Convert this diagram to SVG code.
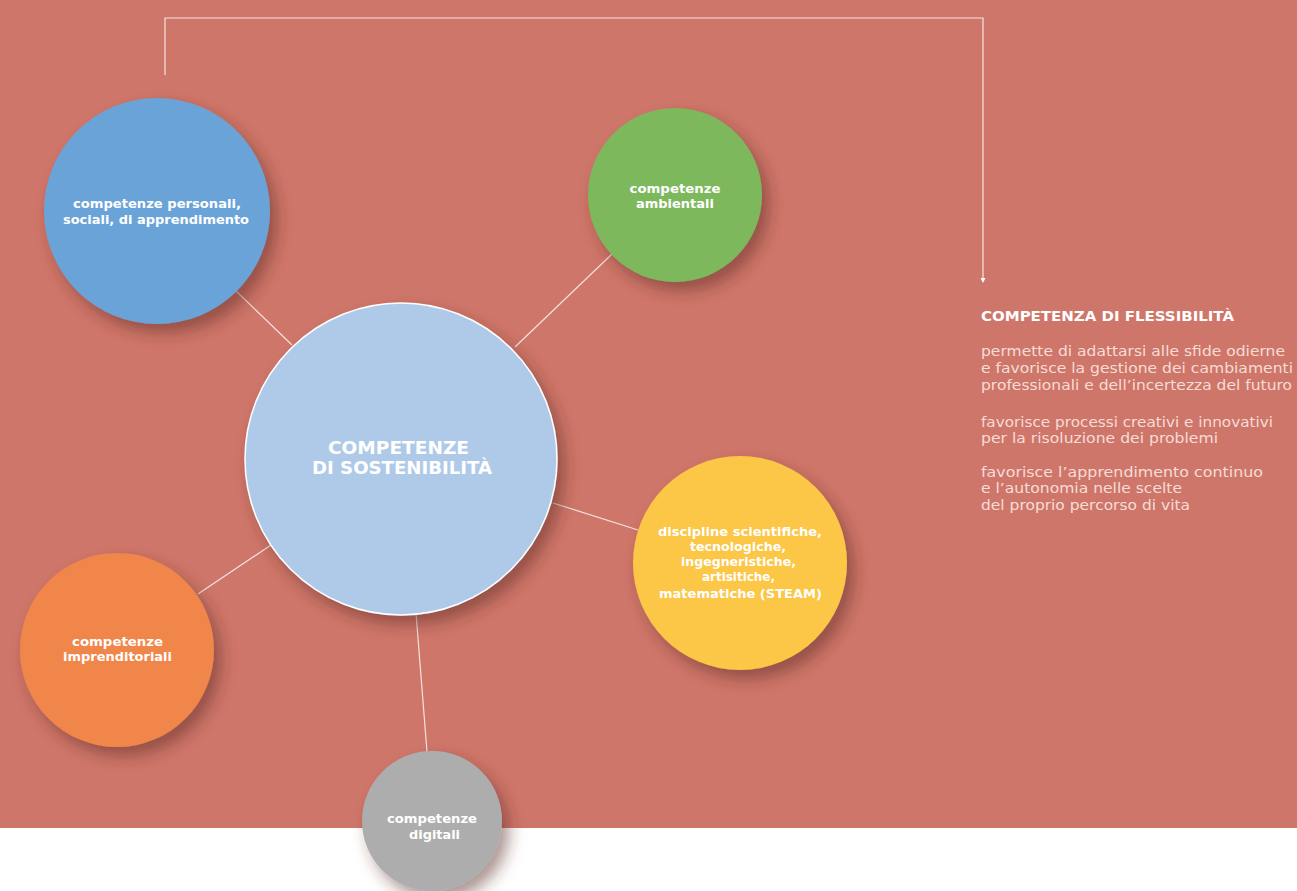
<svg xmlns="http://www.w3.org/2000/svg" width="1297" height="891" viewBox="0 0 1297 891">
<defs>
<filter id="sh" x="-30%" y="-30%" width="160%" height="160%">
<feDropShadow dx="7" dy="9" stdDeviation="8" flood-color="#5a2a22" flood-opacity="0.5"/>
</filter>
<style>
.lbl{font-family:"DejaVu Sans","Liberation Sans",sans-serif;font-weight:700;fill:#ffffff;text-anchor:middle;font-size:12.8px}
.big{font-family:"DejaVu Sans","Liberation Sans",sans-serif;font-weight:700;fill:#ffffff;text-anchor:middle;font-size:18.5px}
.conn{stroke:#f3e3df;stroke-width:1.2;fill:none}
.body{font-family:"DejaVu Sans","Liberation Sans",sans-serif;fill:#f6dcd6;font-size:14px}
.ttl{font-family:"DejaVu Sans","Liberation Sans",sans-serif;font-weight:700;fill:#ffffff;font-size:13.8px}
</style>
</defs>
<rect x="0" y="0" width="1297" height="891" fill="#ffffff"/>
<rect x="0" y="0" width="1297" height="828" fill="#CF766A"/>
<g id="connectors">
<line class="conn" x1="236" y1="291" x2="292" y2="345"/>
<line class="conn" x1="612" y1="254" x2="515" y2="347"/>
<line class="conn" x1="553" y1="503" x2="638" y2="530"/>
<line class="conn" x1="198" y1="594" x2="271" y2="545"/>
<line class="conn" x1="416" y1="613" x2="427" y2="752"/>
<polyline class="conn" points="165,75 165,18 983,18 983,278"/>
<polygon points="980.5,278 985.5,278 983,283" fill="#ffffff"/>
</g>
<g id="personali">
<circle cx="157" cy="211" r="113" fill="#6BA3D7" filter="url(#sh)"/>
<text class="lbl" x="157" y="208" textLength="168" lengthAdjust="spacingAndGlyphs">competenze personali,</text>
<text class="lbl" x="156" y="224" textLength="186" lengthAdjust="spacingAndGlyphs">sociali, di apprendimento</text>
</g>
<g id="ambientali">
<circle cx="675" cy="195" r="87" fill="#7DB85C" filter="url(#sh)"/>
<text class="lbl" x="675" y="193" textLength="91" lengthAdjust="spacingAndGlyphs">competenze</text>
<text class="lbl" x="675" y="208" textLength="78" lengthAdjust="spacingAndGlyphs">ambientali</text>
</g>
<g id="sostenibilita">
<circle cx="401" cy="459" r="156" fill="#AFCAE8" stroke="#ffffff" stroke-width="1.5" filter="url(#sh)"/>
<text class="big" x="398.5" y="454" textLength="141" lengthAdjust="spacingAndGlyphs">COMPETENZE</text>
<text class="big" x="402" y="474" textLength="180" lengthAdjust="spacingAndGlyphs">DI SOSTENIBILITÀ</text>
</g>
<g id="steam">
<circle cx="740" cy="563" r="107" fill="#FCC647" filter="url(#sh)"/>
<text class="lbl" x="740" y="536" textLength="164" lengthAdjust="spacingAndGlyphs">discipline scientifiche,</text>
<text class="lbl" x="738" y="551" textLength="96" lengthAdjust="spacingAndGlyphs">tecnologiche,</text>
<text class="lbl" x="738.5" y="566" textLength="115" lengthAdjust="spacingAndGlyphs">ingegneristiche,</text>
<text class="lbl" x="738.5" y="581" textLength="73" lengthAdjust="spacingAndGlyphs">artisitiche,</text>
<text class="lbl" x="740.5" y="598" textLength="163" lengthAdjust="spacingAndGlyphs">matematiche (STEAM)</text>
</g>
<g id="imprenditoriali">
<circle cx="117" cy="650" r="97" fill="#F0864A" filter="url(#sh)"/>
<text class="lbl" x="117.5" y="646" textLength="91" lengthAdjust="spacingAndGlyphs">competenze</text>
<text class="lbl" x="117.5" y="661" textLength="109" lengthAdjust="spacingAndGlyphs">imprenditoriali</text>
</g>
<g id="digitali">
<circle cx="432" cy="821" r="70" fill="#ADADAD" filter="url(#sh)"/>
<text class="lbl" x="432" y="823" textLength="90" lengthAdjust="spacingAndGlyphs">competenze</text>
<text class="lbl" x="434.5" y="839" textLength="51" lengthAdjust="spacingAndGlyphs">digitali</text>
</g>
<g id="flessibilita">
<text class="ttl" x="981" y="321" textLength="253" lengthAdjust="spacingAndGlyphs">COMPETENZA DI FLESSIBILITÀ</text>
<text class="body" x="981" y="356" textLength="304" lengthAdjust="spacingAndGlyphs">permette di adattarsi alle sfide odierne</text>
<text class="body" x="981" y="373" textLength="312" lengthAdjust="spacingAndGlyphs">e favorisce la gestione dei cambiamenti</text>
<text class="body" x="981" y="390" textLength="311" lengthAdjust="spacingAndGlyphs">professionali e dell’incertezza del futuro</text>
<text class="body" x="981" y="427" textLength="292" lengthAdjust="spacingAndGlyphs">favorisce processi creativi e innovativi</text>
<text class="body" x="981" y="443" textLength="237" lengthAdjust="spacingAndGlyphs">per la risoluzione dei problemi</text>
<text class="body" x="981" y="477" textLength="282" lengthAdjust="spacingAndGlyphs">favorisce l’apprendimento continuo</text>
<text class="body" x="981" y="493" textLength="201" lengthAdjust="spacingAndGlyphs">e l’autonomia nelle scelte</text>
<text class="body" x="981" y="510" textLength="209" lengthAdjust="spacingAndGlyphs">del proprio percorso di vita</text>
</g>
</svg>
